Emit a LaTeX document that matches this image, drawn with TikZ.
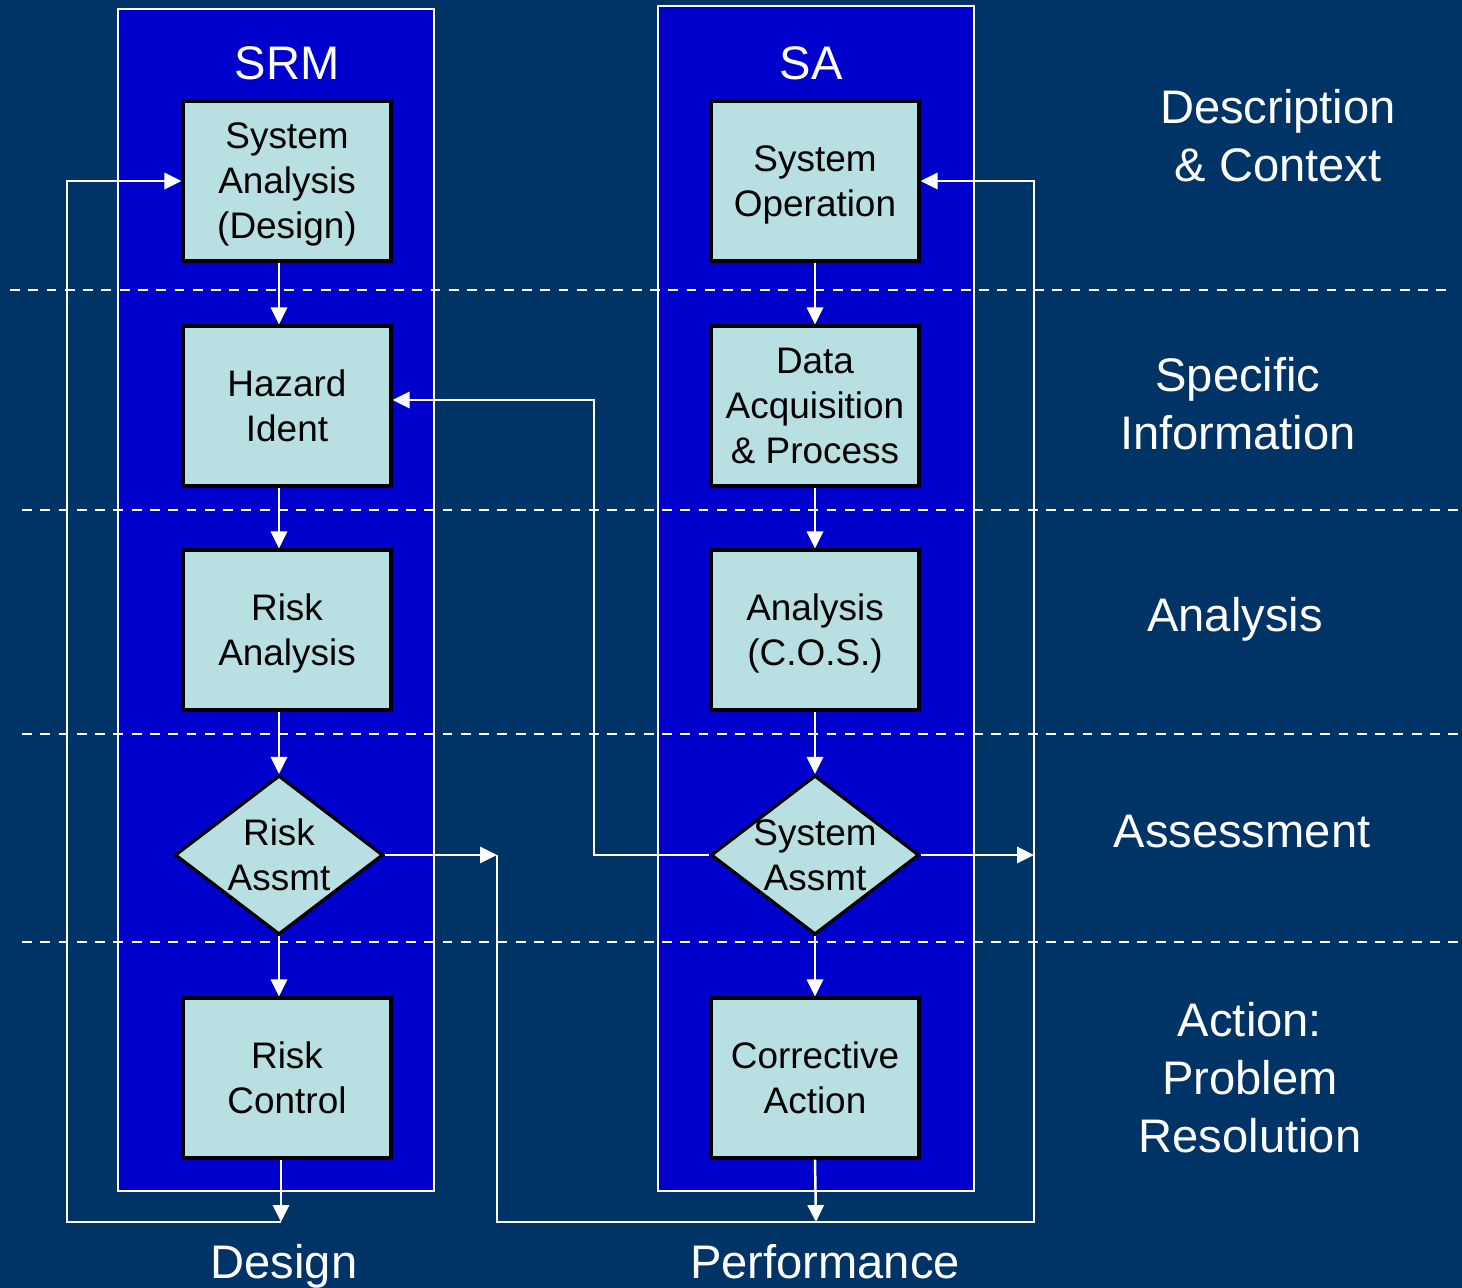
\documentclass[tikz,border=0pt]{standalone}
\usepackage{fontspec}
\setmainfont{Liberation Sans}
\usepackage{tikz}
\usetikzlibrary{shapes.geometric}
\usetikzlibrary{arrows.meta}
\definecolor{slide}{RGB}{0,51,102}
\definecolor{lane}{RGB}{0,0,204}
\definecolor{cell}{RGB}{184,224,226}
\tikzstyle{lanebox}=[draw=white, line width=0.6pt, fill=lane]
\tikzstyle{band}=[draw=white, line width=0.6pt, dash pattern=on 2.8pt off 2.4pt]
\tikzstyle{stepbox}=[draw=black, line width=0.9pt, fill=cell, inner sep=0pt, minimum width=2.08cm, minimum height=1.6cm, align=center, text depth=0pt, font=\fontsize{10.5}{12.8}\selectfont]
\tikzstyle{decide}=[stepbox, diamond, minimum width=2.08cm, minimum height=1.59cm]
\tikzstyle{dlabel}=[inner sep=0pt, align=center, font=\fontsize{10.5}{12.8}\selectfont]
\tikzstyle{heading}=[text=white, inner sep=0pt, align=center, text depth=0pt, font=\fontsize{13.4}{16.5}\selectfont]
\tikzstyle{flow}=[draw=white, line width=0.7pt]
\tikzstyle{arr}=[flow, -{Triangle[length=4.8pt, width=4.6pt]}]

\begin{document}
\begin{tikzpicture}[x=0.01cm, y=-0.01cm]
        \fill[slide] (0,0) rectangle (1462,1288);
        \useasboundingbox (0,0) rectangle (1462,1288);
        \draw[lanebox] (118,9) rectangle (434,1191);
        \draw[lanebox] (658,6) rectangle (974,1191);
        \draw[band] (10,290) -- (1452,290);
        \draw[band] (22,510) -- (1462,510);
        \draw[band] (22,734) -- (1462,734);
        \draw[band] (22,942) -- (1462,942);

        \node[heading, anchor=base] (srmhead) at (287,80) {SRM};
        \node[heading, anchor=base] (sahead) at (811,80) {SA};
        \node[stepbox] (sysan) at (287,181) {System\\Analysis\\(Design)};
        \node[stepbox] (hazard) at (287,406) {Hazard\\Ident};
        \node[stepbox] (riskan) at (287,630) {Risk\\Analysis};
        \node[decide, label={[dlabel]center:Risk\\Assmt}] (rassmt) at (279,855) {};
        \node[stepbox] (rctrl) at (287,1078) {Risk\\Control};
        \node[stepbox] (sysop) at (815,181) {System\\Operation};
        \node[stepbox] (daq) at (815,406) {Data\\Acquisition\\\& Process};
        \node[stepbox] (cos) at (815,630) {Analysis\\(C.O.S.)};
        \node[decide, label={[dlabel]center:System\\Assmt}] (sassmt) at (815,855) {};
        \node[stepbox] (corr) at (815,1078) {Corrective\\Action};

        \node[heading] (desc) at (1278,135) {Description\\\& Context};
        \node[heading] (spec) at (1238,403) {Specific\\Information};
        \node[heading] (anal) at (1235,614) {Analysis};
        \node[heading] (asmt) at (1242,831) {Assessment};
        \node[heading] (act) at (1250,1077) {Action:\\Problem\\Resolution};
        \node[heading, anchor=base] (dsgnlbl) at (284,1279) {Design};
        \node[heading, anchor=base] (perflbl) at (825,1279) {Performance};

        \coordinate (dsgn) at (281,1222);
        \coordinate (fbl) at (67,1222);
        \coordinate (perf) at (816,1222);
        \coordinate (srmout) at (497,855);
        \coordinate (saloop) at (1034,1222);
        \coordinate (jog) at (594,855);
        \coordinate (hz) at ([yshift=0.06cm]hazard.east);

        \draw[arr] (sysan.south -| rassmt.north) -- (hazard.north -| rassmt.north);
        \draw[arr] (hazard.south -| rassmt.north) -- (riskan.north -| rassmt.north);
        \draw[arr] (riskan.south -| rassmt.north) -- (rassmt.north);
        \draw[arr] (rassmt.south) -- (rctrl.north -| rassmt.south);
        \draw[arr] (rctrl.south -| dsgn) -- (dsgn);
        \draw[arr] (dsgn) -- (fbl) |- (sysan.west);
        \draw[arr] (sysop) -- (daq);
        \draw[arr] (daq) -- (cos);
        \draw[arr] (cos) -- (sassmt);
        \draw[arr] (sassmt) -- (corr);
        \draw[arr] (corr.south) -- (perf);
        \draw[arr] (rassmt.east) -- (rassmt.east -| srmout);
        \draw[arr] (srmout) |- (saloop) |- (sysop.east);
        \draw[arr] (sassmt.east) -- (sassmt.east -| saloop);
        \draw[arr] (sassmt.west) -- (sassmt.west -| jog) |- (hz);
    \end{tikzpicture}
\end{document}
